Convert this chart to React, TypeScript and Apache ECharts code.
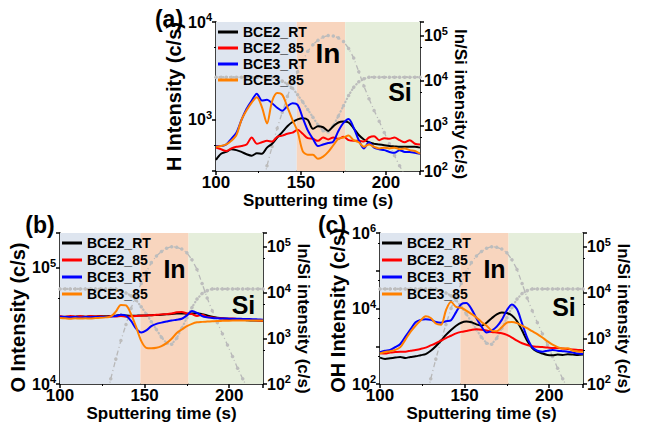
import React, { useEffect, useRef } from 'react';
import * as echarts from 'echarts';

const FONT = "'Liberation Sans', Arial, Helvetica, sans-serif";

// sputtering time (s)
const TIME = [100, 103, 106, 109, 112, 115, 118, 121, 124, 127, 130, 133, 136, 139, 142, 145, 148, 151, 154, 157, 160, 163, 166, 169, 172, 175, 178, 181, 184, 187, 190, 193, 196, 199, 202, 205, 208, 211, 214, 217, 220];
const X_TICK_LABELS = [100, 150, 200];

const SERIES_NAMES = ['BCE2_RT', 'BCE2_85', 'BCE3_RT', 'BCE3_85'];
const SERIES_COLORS = ['#000000', '#ff0000', '#0000ff', '#ff8000'];

// (a) H intensity (c/s)
const H_BCE2_RT = [390, 450, 470, 500, 490, 470, 445, 430, 455, 450, 520, 570, 660, 750, 860, 950, 1010, 1040, 1000, 810, 860, 840, 770, 860, 940, 960, 940, 820, 700, 630, 590, 570, 560, 550, 540, 535, 530, 530, 530, 530, 520];
const H_BCE2_85 = [520, 500, 480, 510, 530, 540, 560, 660, 570, 590, 610, 600, 670, 690, 720, 740, 790, 720, 650, 640, 610, 660, 630, 660, 640, 670, 620, 610, 610, 600, 660, 680, 620, 650, 640, 660, 620, 590, 620, 570, 560];
const H_BCE3_RT = [540, 540, 560, 640, 740, 1000, 1300, 1570, 1850, 1580, 1600, 1480, 1330, 1240, 1380, 1480, 1420, 1050, 780, 640, 540, 560, 580, 600, 770, 930, 1020, 830, 620, 510, 590, 520, 500, 490, 470, 460, 490, 470, 470, 460, 450];
const H_BCE3_85 = [530, 540, 560, 610, 700, 1000, 1250, 1500, 1700, 1350, 920, 1550, 1880, 1800, 1350, 1000, 760, 480, 440, 440, 400, 420, 470, 550, 640, 660, 690, 620, 590, 530, 560, 530, 510, 520, 510, 520, 500, 510, 490, 480, 450];

// (b) O intensity (c/s)
const O_BCE2_RT = [37500, 38000, 37800, 38000, 38200, 38000, 38300, 38200, 38500, 38300, 38600, 38800, 39500, 39000, 38700, 38800, 39000, 39000, 39200, 39300, 39500, 39800, 40000, 40500, 40500, 40300, 40500, 40600, 40000, 39000, 38000, 37300, 36800, 36500, 36300, 36000, 35800, 35500, 35300, 35200, 35000];
const O_BCE2_85 = [38500, 37800, 38600, 38000, 38500, 37900, 38600, 38200, 38400, 38000, 38500, 38200, 38500, 38000, 38300, 38600, 38800, 39000, 39200, 39500, 39800, 40000, 40500, 41500, 41800, 40500, 40000, 38500, 39500, 37800, 37500, 37000, 36800, 36500, 36700, 36200, 36000, 35800, 35600, 35300, 35000];
const O_BCE3_RT = [38000, 37800, 37600, 37800, 37500, 37800, 37600, 37800, 37700, 37800, 38000, 38500, 39500, 38800, 35000, 30000, 27800, 29000, 31500, 33000, 33800, 34500, 35200, 35800, 36500, 39000, 42500, 41000, 38500, 37500, 37000, 36800, 36700, 36600, 36500, 36500, 36400, 36300, 36200, 36000, 35800];
const O_BCE3_85 = [37000, 36800, 36500, 36800, 36600, 36800, 36700, 37000, 37200, 37500, 38000, 42000, 48000, 47500, 40000, 31000, 23500, 20500, 20300, 20500, 21200, 22500, 24500, 27500, 29500, 31500, 33000, 34000, 34300, 34500, 34700, 34900, 35000, 35100, 35200, 35200, 35200, 35300, 35300, 35300, 35200];

// (c) OH intensity (c/s)
const OH_BCE2_RT = [500, 460, 480, 500, 520, 490, 520, 540, 580, 620, 760, 1000, 1400, 2000, 2700, 3500, 4200, 4500, 4300, 3800, 3500, 4200, 5500, 7000, 7800, 7600, 6500, 4600, 2600, 1400, 900, 720, 640, 590, 580, 600, 590, 610, 600, 590, 600];
const OH_BCE2_85 = [650, 640, 680, 700, 720, 720, 760, 800, 850, 920, 1050, 1200, 1400, 1650, 1900, 2200, 2400, 2550, 2700, 2800, 2750, 2600, 2400, 2300, 2200, 2000, 1700, 1400, 1200, 1080, 1000, 970, 950, 930, 900, 900, 870, 850, 820, 800, 780];
const OH_BCE3_RT = [700, 760, 800, 950, 1150, 1800, 2800, 4300, 5000, 5200, 5000, 4400, 4200, 4600, 4900, 8000, 13000, 14000, 9800, 5500, 3300, 2300, 2600, 3300, 5000, 9000, 12800, 9500, 4000, 1700, 950, 760, 720, 760, 800, 760, 740, 720, 680, 640, 620];
const OH_BCE3_85 = [640, 700, 740, 800, 950, 1500, 2400, 3500, 4800, 6200, 5600, 4000, 3700, 9000, 15000, 11000, 10500, 8800, 7200, 5800, 4400, 3500, 2600, 2500, 3200, 4200, 4400, 4100, 3500, 3000, 2500, 2100, 1700, 1350, 1100, 950, 870, 880, 760, 730, 720];

// In / Si reference signals (right axis, c/s)
const IN_TIME = [127, 130, 133, 136, 139, 142, 145, 148, 151, 154, 157, 160, 163, 166, 169, 172, 175, 178, 181, 184, 187, 190, 193, 196, 199, 202, 205, 208, 211, 214];
const IN_SIGNAL = [40, 130, 350, 890, 2000, 4500, 8900, 15800, 28000, 45000, 63000, 79000, 93000, 100000, 98000, 89000, 74000, 52000, 32000, 15800, 7600, 4000, 2200, 1260, 710, 400, 220, 130, 80, 50];
const SI_SIGNAL = [12000, 12000, 12000, 12000, 12000, 12000, 12000, 12000, 12000, 12000, 12000, 12000, 11000, 9800, 8500, 6800, 4900, 3400, 2300, 1550, 1050, 780, 740, 1000, 1660, 2800, 4700, 7200, 9500, 11000, 12000, 12000, 12000, 12000, 12000, 12000, 12000, 12000, 12000, 12000, 12000];

// layer regions (s)
const REGION_BOUNDS = [100, 147.5, 176, 220];
const REGION_COLORS = ['#dee5ef', '#f8d5be', '#e5eedb'];

const PANELS = [
  {
    label: '(a)', labelPos: [169, 19],
    grid: { left: 216, top: 22, width: 204, height: 149 },
    leftName: 'H Intensity (c/s)', leftMin: 300, leftMax: 10000, hideOdd: false, leftPad: [0, 0, 0, 0], rightPad: [0, 0, 0, 15],
    data: [H_BCE2_RT, H_BCE2_85, H_BCE3_RT, H_BCE3_85],
    legendGap: 2,
    inPos: [328, 53], inSize: 28, siPos: [400, 92], siSize: 25,
  },
  {
    label: '(b)', labelPos: [40, 225],
    grid: { left: 60, top: 233, width: 203, height: 151 },
    leftName: 'O Intensity (c/s)', leftMin: 10000, leftMax: 200000, hideOdd: false, leftPad: [0, 18, 0, 0], rightPad: [0, 0, 0, 20],
    data: [O_BCE2_RT, O_BCE2_85, O_BCE3_RT, O_BCE3_85],
    legendGap: 3,
    inPos: [174.5, 269], inSize: 25, siPos: [243.5, 305], siSize: 25,
  },
  {
    label: '(c)', labelPos: [332, 225],
    grid: { left: 380, top: 233, width: 203, height: 151 },
    leftName: 'OH Intensity (c/s)', leftMin: 100, leftMax: 1000000, hideOdd: true, leftPad: [0, 4, 0, 0], rightPad: [0, 0, 0, 20],
    data: [OH_BCE2_RT, OH_BCE2_85, OH_BCE3_RT, OH_BCE3_85],
    legendGap: 3,
    inPos: [494.5, 269], inSize: 25, siPos: [564, 307], siSize: 25,
  },
];

const RICH = {
  b: { fontSize: 16, fontWeight: 'bold', color: '#000', fontFamily: FONT },
  s: { fontSize: 11, fontWeight: 'bold', color: '#000', fontFamily: FONT, padding: [0, 0, 10, 0] },
};

function logFormatter(hideOdd: boolean) {
  return (v: number) => {
    const e = Math.log10(v);
    const r = Math.round(e);
    if (Math.abs(e - r) > 1e-6) return '';
    if (hideOdd && r % 2 !== 0) return '';
    return `{b|10}{s|${r}}`;
  };
}

const AXIS_LINE = { show: true, lineStyle: { color: '#000', width: 1.5 } };

function buildOption() {
  const grid: any[] = [];
  const xAxis: any[] = [];
  const yAxis: any[] = [];
  const series: any[] = [];
  const legend: any[] = [];
  const graphic: any[] = [];

  PANELS.forEach((p, i) => {
    grid.push({ ...p.grid, containLabel: false, show: false });
    xAxis.push({
      type: 'value', gridIndex: i, min: 100, max: 220, interval: 50,
      axisLine: AXIS_LINE,
      axisTick: { show: true, length: 4, lineStyle: { color: '#000', width: 1.5 } },
      minorTick: { show: true, splitNumber: 2, length: 2, lineStyle: { color: '#000', width: 1 } },
      axisLabel: {
        fontSize: 17, fontWeight: 'bold', color: '#000', fontFamily: FONT, margin: 3,
        formatter: (v: number) => (X_TICK_LABELS.indexOf(v) >= 0 ? String(v) : ''),
      },
      splitLine: { show: false },
      name: 'Sputtering time (s)', nameLocation: 'middle', nameGap: 20,
      nameTextStyle: { fontSize: 17, fontWeight: 'bold', color: '#000', fontFamily: FONT },
    });
    yAxis.push({
      type: 'log', logBase: 10, gridIndex: i, position: 'left', min: p.leftMin, max: p.leftMax,
      axisLine: AXIS_LINE,
      axisTick: { show: true, length: 4, lineStyle: { color: '#000', width: 1.5 } },
      minorTick: { show: true, splitNumber: 2, length: 2, lineStyle: { color: '#000', width: 1 } },
      axisLabel: { formatter: logFormatter(p.hideOdd), rich: RICH, margin: 4 },
      splitLine: { show: false },
      name: p.leftName, nameLocation: 'middle', nameRotate: 90, nameGap: 28,
      nameTextStyle: { fontSize: 20, fontWeight: 'bold', color: '#000', fontFamily: FONT, padding: p.leftPad },
    });
    yAxis.push({
      type: 'log', logBase: 10, gridIndex: i, position: 'right', min: 100, max: 200000,
      axisLine: AXIS_LINE,
      axisTick: { show: true, length: 4, lineStyle: { color: '#000', width: 1.5 } },
      minorTick: { show: true, splitNumber: 2, length: 2, lineStyle: { color: '#000', width: 1 } },
      axisLabel: { formatter: logFormatter(false), rich: RICH, margin: 4 },
      splitLine: { show: false },
      name: 'In/Si intensity (c/s)', nameLocation: 'middle', nameRotate: -90, nameGap: 29,
      nameTextStyle: { fontSize: 17, fontWeight: 'bold', color: '#000', fontFamily: FONT, padding: p.rightPad },
    });

    // Si reference signal with layer shading
    series.push({
      type: 'line', xAxisIndex: i, yAxisIndex: 2 * i + 1, silent: true, z: 2,
      data: TIME.map((t, k) => [t, SI_SIGNAL[k]]),
      symbol: 'circle', symbolSize: 3.5, showSymbol: true,
      lineStyle: { color: '#bcbcbc', width: 2.2, type: [0.5, 3], cap: 'round' },
      itemStyle: { color: '#bdbdbd' },
      markArea: {
        silent: true, z: 1,
        data: REGION_COLORS.map((c, r) => [
          { xAxis: REGION_BOUNDS[r], itemStyle: { color: c, opacity: 1 } },
          { xAxis: REGION_BOUNDS[r + 1] },
        ]),
      },
    });
    // In reference signal
    series.push({
      type: 'line', xAxisIndex: i, yAxisIndex: 2 * i + 1, silent: true, z: 2,
      data: IN_TIME.map((t, k) => [t, IN_SIGNAL[k]]),
      symbol: 'circle', symbolSize: 3.5, showSymbol: true,
      lineStyle: { color: '#b8b8b8', width: 1.3, type: [5, 3, 1, 3] },
      itemStyle: { color: '#bdbdbd' },
    });
    p.data.forEach((arr, s) => {
      series.push({
        type: 'line', name: SERIES_NAMES[s], xAxisIndex: i, yAxisIndex: 2 * i, z: 3 + s,
        data: TIME.map((t, k) => [t, arr[k]]),
        symbol: 'none', showSymbol: false, smooth: 0.3,
        lineStyle: { color: SERIES_COLORS[s], width: 2 },
        itemStyle: { color: SERIES_COLORS[s] },
      });
    });

    legend.push({
      orient: 'vertical', left: p.grid.left + 2, top: p.grid.top + 3, padding: 0,
      icon: 'rect', itemWidth: 20, itemHeight: 3, itemGap: p.legendGap,
      selectedMode: false,
      textStyle: { fontSize: 14, fontWeight: 'bold', color: '#000', fontFamily: FONT, lineHeight: 14 },
      data: SERIES_NAMES,
    });

    graphic.push({
      type: 'text', x: p.labelPos[0], y: p.labelPos[1], z: 100,
      style: { text: p.label, fontSize: 23, fontWeight: 'bold', fontFamily: FONT, fill: '#000', align: 'center', verticalAlign: 'middle' },
    });
    graphic.push({
      type: 'text', x: p.inPos[0], y: p.inPos[1], z: 100,
      style: { text: 'In', fontSize: p.inSize, fontWeight: 'bold', fontFamily: FONT, fill: '#000', align: 'center', verticalAlign: 'middle' },
    });
    graphic.push({
      type: 'text', x: p.siPos[0], y: p.siPos[1], z: 100,
      style: { text: 'Si', fontSize: p.siSize, fontWeight: 'bold', fontFamily: FONT, fill: '#000', align: 'center', verticalAlign: 'middle' },
    });
  });

  return {
    animation: false,
    backgroundColor: '#ffffff',
    textStyle: { fontFamily: FONT },
    grid, xAxis, yAxis, series, legend, graphic,
  };
}

export default function App() {
  const ref = useRef<HTMLDivElement>(null);
  useEffect(() => {
    if (!ref.current) return;
    const chart = echarts.init(ref.current, undefined, { renderer: 'svg' });
    chart.setOption(buildOption() as any);
    return () => chart.dispose();
  }, []);
  return (
    <div
      ref={ref}
      style={{ position: 'fixed', left: 0, top: 0, width: 646, height: 428, background: '#fff' }}
    />
  );
}
